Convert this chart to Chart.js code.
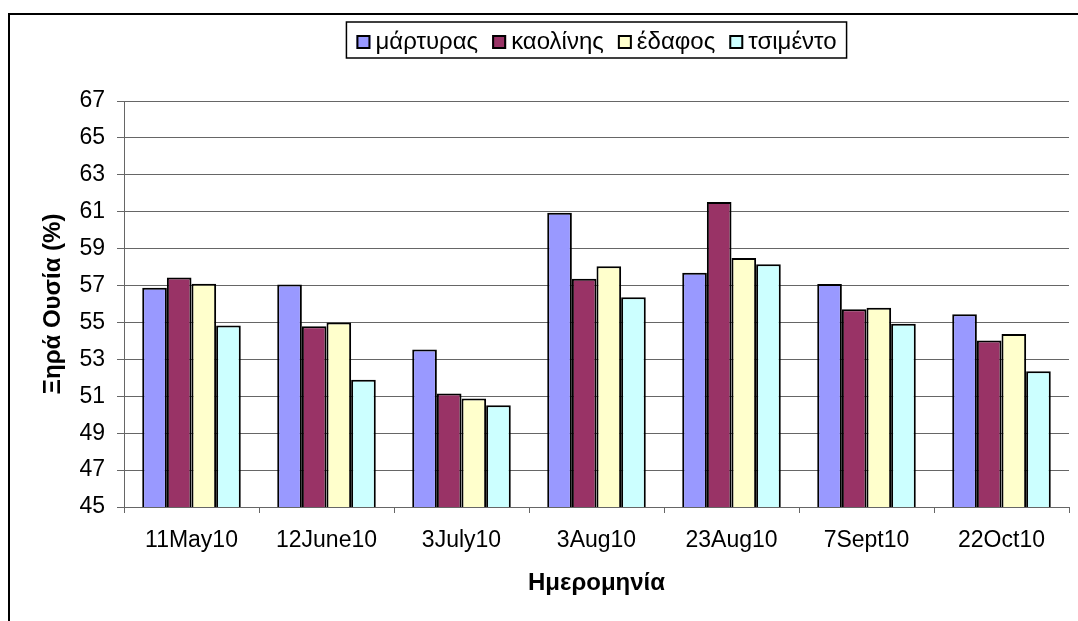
<!DOCTYPE html>
<html>
<head>
<meta charset="utf-8">
<script src="https://cdn.jsdelivr.net/npm/chart.js@4/dist/chart.umd.min.js"></script>
<style>
  html, body { margin: 0; padding: 0; background: #fff; overflow: hidden; }
  #frame { position: absolute; left: 8px; top: 13px; width: 1200px; height: 800px; border: 2px solid #000; }
  #chart { position: absolute; left: 0; top: 0; }
</style>
</head>
<body>
<div id="frame"></div>
<canvas id="chart" width="1078" height="621"></canvas>
<script>
const dates = ['11May10', '12June10', '3July10', '3Aug10', '23Aug10', '7Sept10', '22Oct10'];
const seriesNames = ['μάρτυρας', 'καολίνης', 'έδαφος', 'τσιμέντο'];

// Ξηρά ουσία (%) per date
const martyras = [56.88, 57.05, 53.53, 60.95, 57.70, 57.08, 55.45];
const kaolinis = [57.43, 54.80, 51.15, 57.37, 61.53, 55.72, 54.02];
const edafos   = [57.10, 55.00, 50.88, 58.04, 58.49, 55.80, 54.37];
const tsimento = [54.84, 51.90, 50.51, 56.36, 58.16, 54.93, 52.36];

const yMin = 45, yMax = 67, yStep = 2;

const colors = ['#9999FF', '#993366', '#FFFFCC', '#CCFFFF'];
const FONT = '"Liberation Sans", Arial, sans-serif';

// legend with a frame, centred over the plot area
const framedLegend = {
    id: 'framedLegend',
    afterDraw(chart) {
        const ctx = chart.ctx;
        ctx.save();
        ctx.font = '24px ' + FONT;
        const sq = 14, gapSq = 5, gapItem = 14, padX = 10;
        const items = chart.data.datasets.map(ds => ({
            text: ds.label, color: ds.backgroundColor, w: ctx.measureText(ds.label).width
        }));
        let total = padX * 2 + gapItem * (items.length - 1);
        items.forEach(it => { total += sq + gapSq + it.w; });
        const cx = (chart.chartArea.left + chart.chartArea.right) / 2;
        let x = cx - total / 2;
        const top = 22, bottom = 58;
        ctx.strokeStyle = '#000';
        ctx.lineWidth = 1.5;
        ctx.strokeRect(x, top, total, bottom - top);
        x += padX;
        items.forEach(it => {
            ctx.fillStyle = it.color;
            ctx.fillRect(x, 35, sq, sq);
            ctx.lineWidth = 2;
            ctx.strokeRect(x + 1, 36, sq - 2, sq - 2);
            x += sq + gapSq;
            ctx.fillStyle = '#000';
            ctx.textBaseline = 'alphabetic';
            ctx.textAlign = 'left';
            ctx.fillText(it.text, x, 48.5);
            x += it.w + gapItem;
        });
        ctx.restore();
    }
};

const allSeries = [martyras, kaolinis, edafos, tsimento];

new Chart(document.getElementById('chart'), {
    type: 'bar',
    data: {
        labels: dates,
        datasets: allSeries.map((vals, i) => ({
            label: seriesNames[i],
            data: vals,
            backgroundColor: colors[i],
            borderColor: '#000',
            borderWidth: 2,
            borderSkipped: false,
            categoryPercentage: 0.73,
            barPercentage: 1.0,
        })),
    },
    options: {
        responsive: false,
        animation: false,
        devicePixelRatio: 1,
        layout: { padding: { top: 101, right: 9, bottom: 0, left: 0 } },
        plugins: {
            legend: { display: false },
            tooltip: { enabled: false },
        },
        scales: {
            x: {
                offset: true,
                grid: { display: true, drawOnChartArea: false, drawTicks: true, tickLength: 6, offset: true, color: '#666', lineWidth: 1 },
                border: { color: '#666', width: 1 },
                ticks: { color: '#000', font: { family: FONT, size: 23 }, padding: 14, maxRotation: 0 },
                title: { display: true, text: 'Ημερομηνία', color: '#000', font: { family: FONT, size: 24, weight: 'bold' }, padding: { top: 0, bottom: 23 } },
                afterFit(scale) { scale.height = 114; },
            },
            y: {
                min: yMin,
                max: yMax,
                ticks: { stepSize: yStep, color: '#000', font: { family: FONT, size: 23 }, padding: 12 },
                grid: { color: '#666', lineWidth: 1, tickLength: 7 },
                border: { color: '#666', width: 1 },
                title: { display: true, text: 'Ξηρά Ουσία (%)', color: '#000', font: { family: FONT, size: 24, weight: 'bold' }, padding: { top: 39, bottom: 0 } },
                afterFit(scale) { scale.width = 124; },
            },
        },
    },
    plugins: [framedLegend],
});
</script>
</body>
</html>
